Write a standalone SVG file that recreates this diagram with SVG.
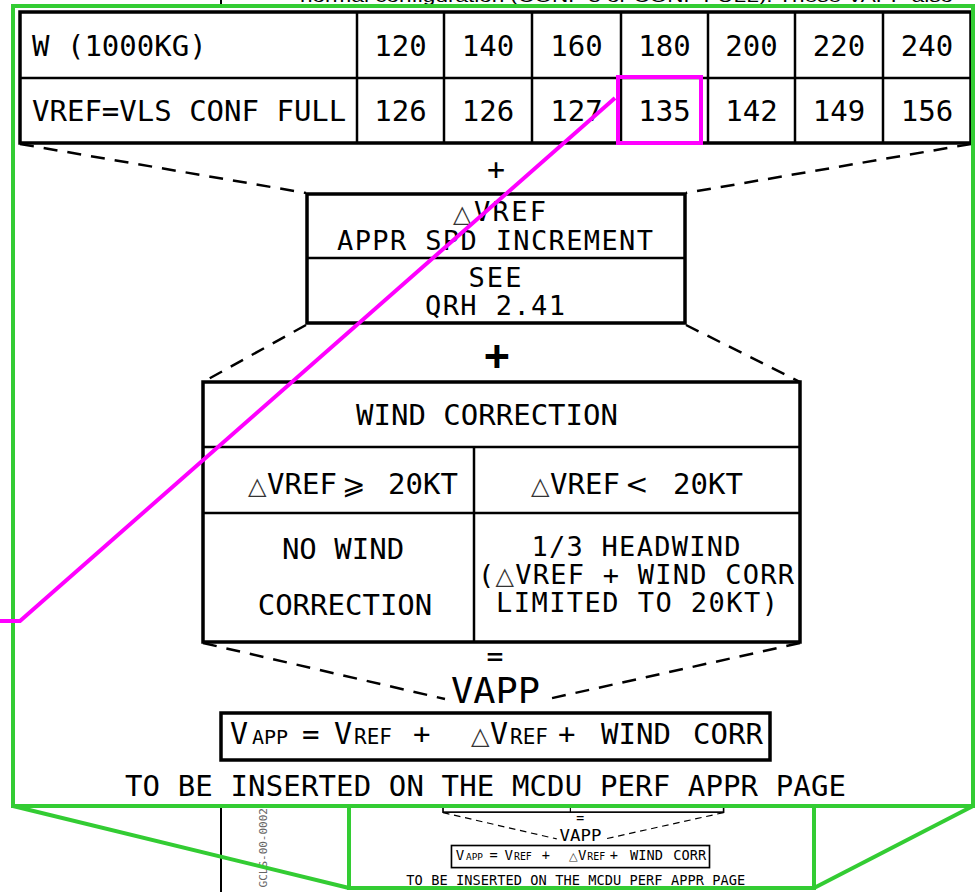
<svg xmlns="http://www.w3.org/2000/svg" xmlns:xlink="http://www.w3.org/1999/xlink" width="977" height="892" viewBox="0 0 977 892">
<style>
  text { font-family: "DejaVu Sans Mono", "DejaVu Sans", monospace; fill: #000; }
  .t { font-size: 29px; }
  .s { font-size: 27px; }
  .c { text-anchor: middle; }
  .tri { font-family: "DejaVu Sans", sans-serif; font-size: 24px; fill: #333; }
  .sub { font-size: 20px; }
  .ln { stroke: #000; fill: none; stroke-width: 2.5; }
  .box { stroke: #000; fill: #fff; stroke-width: 3.5; }
  .dash { stroke: #000; fill: none; stroke-width: 2.5; stroke-dasharray: 14 10; }
  .green { stroke: #33cc33; fill: none; stroke-width: 4; }
  .mag { stroke: #ff00ff; fill: none; stroke-width: 4; }
</style>
<defs>
  <clipPath id="insetClip">
    <rect x="351" y="808" width="461" height="78"/>
  </clipPath>
</defs>
<rect width="977" height="892" fill="#fff"/>

<!-- underlying page fragments -->
<g id="page">
  <line x1="221" y1="0" x2="221" y2="5" stroke="#000" stroke-width="2"/>
  <text x="300" y="2" font-size="16" textLength="653" lengthAdjust="spacingAndGlyphs" style="font-family:'Liberation Sans',sans-serif">normal configuration (CONF 3 or CONF FULL). These VAPP also</text>
  <line x1="221" y1="806" x2="221" y2="892" stroke="#000" stroke-width="2"/>
  <text transform="translate(267,808) rotate(-90)" text-anchor="end" font-size="11" style="fill:#666">GCLS-00-0002</text>
</g>

<g id="main">
  <g id="weight-table">
    <rect x="20" y="12" width="951" height="131" class="box" stroke-width="3"/>
    <line x1="20" y1="78" x2="971" y2="78" class="ln"/>
    <line x1="357" y1="12" x2="357" y2="143" class="ln"/>
    <line x1="444" y1="12" x2="444" y2="143" class="ln"/>
    <line x1="532" y1="12" x2="532" y2="143" class="ln"/>
    <line x1="621" y1="12" x2="621" y2="143" class="ln"/>
    <line x1="708" y1="12" x2="708" y2="143" class="ln"/>
    <line x1="795" y1="12" x2="795" y2="143" class="ln"/>
    <line x1="883" y1="12" x2="883" y2="143" class="ln"/>
    <text x="32" y="56" class="t">W (1000KG)</text>
    <text x="32" y="121" class="t">VREF=VLS CONF FULL</text>
    <g>
      <text x="400.5" y="56" class="t c">120</text>
      <text x="488" y="56" class="t c">140</text>
      <text x="576.5" y="56" class="t c">160</text>
      <text x="664.5" y="56" class="t c">180</text>
      <text x="751.5" y="56" class="t c">200</text>
      <text x="839" y="56" class="t c">220</text>
      <text x="927" y="56" class="t c">240</text>
      <text x="400.5" y="121" class="t c">126</text>
      <text x="488" y="121" class="t c">126</text>
      <text x="576.5" y="121" class="t c">127</text>
      <text x="664.5" y="121" class="t c">135</text>
      <text x="751.5" y="121" class="t c">142</text>
      <text x="839" y="121" class="t c">149</text>
      <text x="927" y="121" class="t c">156</text>
    </g>
  </g>

  <g id="connectors">
    <line x1="20" y1="144" x2="306" y2="193" class="dash"/>
    <line x1="971" y1="144" x2="686" y2="193" class="dash"/>
    <line x1="306" y1="325" x2="203" y2="382" class="dash"/>
    <line x1="686" y1="325" x2="800" y2="382" class="dash"/>
  </g>

  <g id="plus1"><text x="496" y="180" class="c" font-size="30">+</text></g>

  <g id="increment-box">
    <rect x="307" y="194" width="378" height="129" class="box" stroke-width="4"/>
    <line x1="307" y1="258" x2="685" y2="258" class="ln" stroke-width="3"/>
    <text x="453" y="222" class="tri" font-size="22">△</text>
    <text x="474" y="221" class="s" textLength="72">VREF</text>
    <text x="495" y="250" class="s c" textLength="316">APPR SPD INCREMENT</text>
    <text x="495" y="287" class="s c" textLength="53">SEE</text>
    <text x="495" y="315" class="s c" textLength="140">QRH 2.41</text>
  </g>

  <g id="plus2"><text x="497" y="370" class="c" font-size="42" font-weight="bold">+</text></g>

  <g id="lower">
    <g id="wind-table">
      <rect x="203" y="382" width="597" height="260" class="box"/>
      <line x1="203" y1="447" x2="800" y2="447" class="ln" stroke-width="3"/>
      <line x1="203" y1="513" x2="800" y2="513" class="ln" stroke-width="3"/>
      <line x1="474" y1="447" x2="474" y2="642" class="ln" stroke-width="3"/>
      <text x="487" y="425" class="t c">WIND CORRECTION</text>
      <text x="248" y="494" class="tri">△</text>
      <text x="267" y="494" class="t">VREF</text>
      <text x="342" y="494" style="font-family:'DejaVu Sans',sans-serif;font-size:28px">⩾</text>
      <text x="388" y="494" class="t">20KT</text>
      <text x="531" y="494" class="tri">△</text>
      <text x="550" y="494" class="t">VREF</text>
      <text x="625" y="494" style="font-family:'DejaVu Sans',sans-serif;font-size:28px">&lt;</text>
      <text x="673" y="494" class="t">20KT</text>
      <text x="343" y="559" class="t c">NO WIND</text>
      <text x="345" y="615" class="t c">CORRECTION</text>
      <text x="636" y="556" class="s c" textLength="209">1/3 HEADWIND</text>
      <text x="478" y="584" class="s" textLength="316">(<tspan class="tri" font-size="22">△</tspan>VREF + WIND CORR</text>
      <text x="496" y="612" class="s" textLength="282">LIMITED TO 20KT)</text>
    </g>
    <g id="lower-connectors">
      <line x1="203" y1="643" x2="445" y2="699" class="dash"/>
      <line x1="800" y1="643" x2="548" y2="699" class="dash"/>
    </g>
    <g id="equals"><text x="495" y="666" class="c" font-size="28">=</text></g>
    <g id="vapp-label"><text x="451" y="703" font-size="35" textLength="89" lengthAdjust="spacingAndGlyphs">VAPP</text></g>
    <g id="formula-box">
      <rect x="221" y="713" width="549" height="47" class="box" stroke-width="3"/>
      <text y="744"><tspan x="230" font-size="30">V</tspan><tspan x="252" class="sub">APP</tspan><tspan x="302" font-size="29">=</tspan><tspan x="334" font-size="30">V</tspan><tspan x="354" font-size="21">REF</tspan><tspan x="413" font-size="29">+</tspan><tspan x="471" class="tri">△</tspan><tspan x="490" font-size="30">V</tspan><tspan x="510" font-size="21">REF</tspan><tspan x="558" font-size="29">+</tspan><tspan x="601" font-size="29">WIND</tspan><tspan x="693" font-size="29">CORR</tspan></text>
    </g>
    <g id="caption"><text x="125" y="796" class="t" textLength="721" lengthAdjust="spacing">TO BE INSERTED ON THE MCDU PERF APPR PAGE</text></g>
  </g>
</g>

<!-- reduced page inset -->
<g id="inset" clip-path="url(#insetClip)">
  <use xlink:href="#lower" transform="translate(347.6,510.4) scale(0.47)"/>
</g>

<g id="zoom-frame">
  <rect x="13" y="6" width="960" height="800" class="green"/>
  <rect x="349" y="806" width="465" height="82" class="green"/>
  <line x1="13" y1="806" x2="349" y2="888" class="green"/>
  <line x1="973" y1="806" x2="814" y2="888" class="green"/>
</g>

<g id="highlight">
  <rect x="618" y="77" width="83" height="66" class="mag"/>
  <polyline points="0,621 20,621 615,98" class="mag"/>
</g>
</svg>
